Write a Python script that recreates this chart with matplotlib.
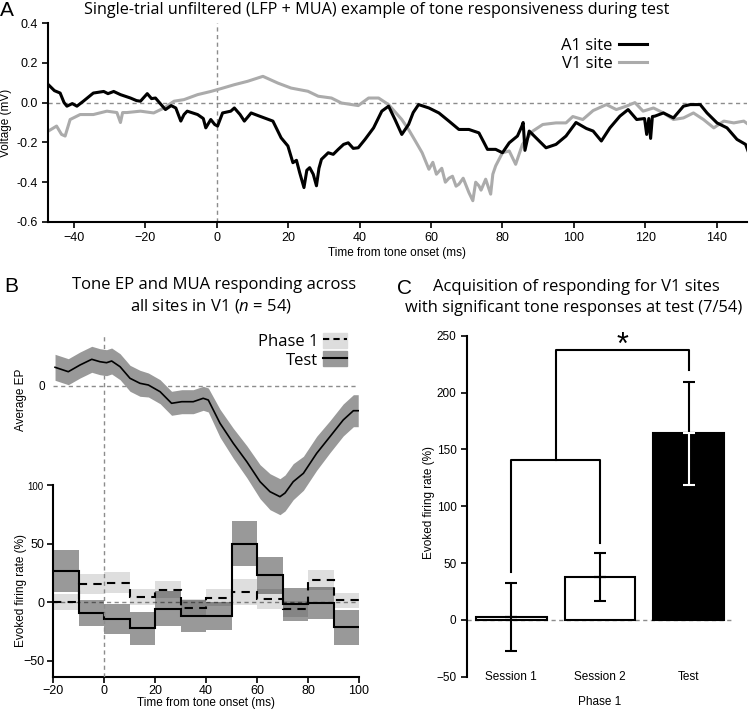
import matplotlib
matplotlib.use("Agg")
import numpy as np
import matplotlib.pyplot as plt
from matplotlib.lines import Line2D
from matplotlib.patches import Patch
from matplotlib.ticker import FormatStrFormatter

plt.rcParams["font.family"] = ["Liberation Sans", "DejaVu Sans"]
plt.rcParams["font.size"] = 8.5
plt.rcParams["mathtext.fontset"] = "custom"
plt.rcParams["mathtext.it"] = "Open Sans:italic"
plt.rcParams["mathtext.rm"] = "Open Sans"

TITLE_FONT = ["Open Sans", "DejaVu Sans"]

# ---- panel A: single-trial traces (time ms, voltage mV) ----
a1_t = [-47.2, -45.5, -43.9, -42.8, -42.0, -40.5, -39.2, -37.4, -34.6, -31.7, -30.5,
        -28.9, -27.0, -24.2, -22.5, -21.4, -19.5, -18.3, -17.2, -14.4, -12.8, -11.5,
        -10.1, -9.2, -8.3, -5.4, -3.8, -3.1, -1.7, -0.6, 0.2, 1.6, 3.9, 4.9, 6.5,
        7.7, 9.6, 11.5, 13.3, 15.7, 18.0, 19.9, 21.3, 22.3, 23.2, 24.4, 25.2, 26.0,
        27.0, 27.9, 28.6, 29.3, 31.2, 32.6, 34.0, 35.5, 36.8, 38.2, 39.6, 41.5,
        43.9, 46.2, 48.1, 49.9, 51.8, 53.7, 55.0, 56.5, 59.4, 62.2, 65.0, 67.8,
        70.6, 73.4, 74.8, 75.8, 78.1, 80.0, 81.9, 84.2, 85.4, 85.8, 86.3, 87.5,
        89.4, 92.2, 95.0, 97.8, 100.6, 103.5, 105.4, 107.7, 110.1, 112.9, 115.2,
        117.6, 119.8, 120.4, 121.0, 121.5, 122.0, 122.7, 125.1, 127.9, 130.7,
        132.6, 135.4, 137.3, 140.1, 142.9, 145.7, 148.1, 149.3]
a1_v = [0.09, 0.06, 0.048, 0.0, -0.018, -0.005, -0.018, 0.007, 0.048, 0.056, 0.045,
        0.056, 0.04, 0.023, 0.01, 0.007, 0.045, 0.02, 0.023, -0.035, -0.015, -0.027,
        -0.093, -0.06, -0.043, -0.06, -0.08, -0.127, -0.085, -0.11, -0.118, -0.052,
        -0.043, -0.027, -0.06, -0.093, -0.052, -0.065, -0.077, -0.093, -0.177,
        -0.218, -0.302, -0.29, -0.352, -0.427, -0.34, -0.327, -0.36, -0.418,
        -0.33, -0.285, -0.252, -0.26, -0.235, -0.21, -0.202, -0.23, -0.227,
        -0.185, -0.127, -0.043, -0.018, -0.085, -0.16, -0.11, -0.05, -0.01,
        -0.027, -0.052, -0.093, -0.135, -0.135, -0.152, -0.2, -0.235, -0.235,
        -0.252, -0.202, -0.168, -0.12, -0.1, -0.24, -0.143, -0.177, -0.227,
        -0.21, -0.168, -0.1, -0.13, -0.143, -0.193, -0.127, -0.068, -0.035,
        -0.085, -0.08, -0.16, -0.08, -0.18, -0.07, -0.068, -0.052, -0.077,
        -0.018, -0.01, -0.01, -0.052, -0.102, -0.127, -0.185, -0.21, -0.268]

v1_t = [-47.2, -44.9, -43.5, -42.5, -41.1, -38.3, -34.6, -30.8, -28.0, -27.0,
        -26.4, -25.2, -21.4, -17.7, -14.8, -12.0, -9.2, -5.4, -1.7, 1.1, 4.9,
        8.6, 12.9, 17.1, 20.8, 25.5, 28.4, 32.1, 34.9, 39.6, 42.5, 45.3, 48.1,
        51.8, 53.7, 55.6, 57.5, 59.4, 60.5, 61.5, 63.0, 64.0, 65.0, 66.0, 67.0,
        67.8, 69.0, 70.6, 71.7, 72.5, 73.4, 74.0, 75.3, 76.7, 77.3, 78.1, 80.0,
        81.9, 83.7, 85.6, 88.5, 91.3, 95.0, 97.8, 99.7, 102.5, 105.4, 109.1,
        111.9, 114.7, 117.1, 119.4, 122.3, 125.1, 127.9, 130.7, 133.5, 136.3,
        139.2, 142.0, 144.8, 147.6, 149.5]
v1_v = [-0.143, -0.118, -0.16, -0.168, -0.085, -0.06, -0.06, -0.043, -0.05, -0.1,
        -0.05, -0.05, -0.043, -0.052, -0.027, 0.007, 0.015, 0.04, 0.056, 0.07,
        0.09, 0.107, 0.132, 0.098, 0.073, 0.057, 0.032, 0.023, -0.002, -0.015,
        0.023, 0.023, -0.01, -0.085, -0.135, -0.193, -0.252, -0.335, -0.3,
        -0.36, -0.33, -0.4, -0.38, -0.37, -0.42, -0.41, -0.38, -0.452, -0.493,
        -0.4, -0.418, -0.44, -0.385, -0.46, -0.36, -0.318, -0.252, -0.243, -0.31,
        -0.21, -0.143, -0.11, -0.102, -0.102, -0.07, -0.085, -0.04, -0.01,
        -0.035, -0.018, 0.0, -0.043, -0.027, -0.052, -0.085, -0.077, -0.052,
        -0.085, -0.127, -0.093, -0.102, -0.093, -0.118]

# ---- panel B: average EP (a.u.) and evoked MUA (%) ----
ep_t = [-19.2, -14.0, -9.4, -4.8, -1.6, 1.0, 3.0, 6.3, 10.2, 14.1, 17.4, 22.0,
        26.5, 30.5, 35.0, 38.9, 40.9, 45.5, 50.7, 56.0, 61.2, 65.1, 69.0, 71.0,
        74.2, 78.2, 83.4, 88.6, 93.8, 97.8, 99.7]
ep_mean = [18.7, 14.3, 21.0, 26.7, 24.3, 23.3, 25.0, 19.3, 7.7, 2.7, 1.0, -5.7,
           -17.3, -15.7, -15.7, -12.3, -14.0, -37.3, -57.3, -75.7, -95.7, -105.7,
           -110.7, -107.0, -95.7, -87.3, -67.3, -50.7, -34.0, -24.7, -24.7]
ep_sem = [13, 13, 13, 13, 13, 13, 13, 13, 13, 13, 12, 12, 12, 12, 12, 12, 12,
          14, 15, 16, 17, 18, 18, 18, 18, 17, 17, 16, 16, 16, 16]

mua_edges = [-20, -10, 0, 10, 20, 30, 40, 50, 60, 70, 80, 90, 100]
test_mean = [26.6, -9.4, -14.3, -22.3, -5.7, -12.0, -12.0, 50.0, 22.9, -2.0, -0.9, -21.4]
test_sem = [18, 11, 13, 14, 15, 13.5, 12, 19, 16, 14, 13.5, 15]
phase1_mean = [0.0, 15.2, 16.6, 4.3, 10.6, -4.8, 3.8, 8.6, 2.9, -5.7, 19.2, 1.4]
phase1_sem = [7, 8.6, 9, 7, 7.5, 7, 7, 11.5, 8.5, 7, 8.6, 6.7]

# ---- panel C: evoked firing rate per session ----
sessions = ["Session 1", "Session 2", "Test"]
rate_mean = [2.4, 38.0, 164.0]
rate_sem = [30.0, 21.0, 45.5]
bar_colors = ["white", "white", "black"]

W, H = 750, 714
fig = plt.figure(figsize=(W / 100, H / 100), dpi=100)


def px_axes(left, top, right, bottom):
    return fig.add_axes([left / W, 1 - bottom / H, (right - left) / W, (bottom - top) / H])


DASH = dict(color="#8c8c8c", lw=1.0, ls=(0, (3, 2.5)))
LETTER = dict(fontsize=15, va="center", ha="left")

# ================= A =================
axA = px_axes(48, 23, 747, 222)
axA.axhline(0, zorder=1, **DASH)
axA.axvline(0, zorder=1, **DASH)
axA.plot(v1_t, v1_v, color="#ababab", lw=2.2, label="V1 site", zorder=2)
axA.plot(a1_t, a1_v, color="black", lw=2.2, label="A1 site", zorder=3)
axA.set_xlim(-47.3, 148.5)
axA.set_ylim(-0.6, 0.4)
axA.set_xticks(range(-40, 141, 20))
axA.set_yticks(np.arange(-0.6, 0.41, 0.2))
axA.yaxis.set_major_formatter(FormatStrFormatter("%.1f"))
for s in ("top", "right"):
    axA.spines[s].set_visible(False)
for s in ("left", "bottom"):
    axA.spines[s].set_linewidth(1.5)
axA.tick_params(width=1.2, length=4, labelsize=9)
axA.set_ylabel("Voltage (mV)", fontsize=8.5, labelpad=3)
axA.set_xlabel("Time from tone onset (ms)", fontsize=8.5, labelpad=2)
hA, lA = axA.get_legend_handles_labels()
fig.legend(hA[::-1], lA[::-1], loc="upper right", bbox_to_anchor=(654 / W, 1 - 31 / H),
           frameon=False, markerfirst=False, handlelength=1.7, handletextpad=0.4,
           labelspacing=0.15, prop={"family": TITLE_FONT, "size": 12}, borderaxespad=0)

fig.text(0 / W, 1 - 11 / H, "A", **LETTER)
fig.text(377 / W, 1 - 10 / H,
         "Single-trial unfiltered (LFP + MUA) example of tone responsiveness during test",
         ha="center", va="center", fontsize=11.6, family=TITLE_FONT)

# ================= B (MUA) =================
axM = px_axes(53, 485, 359, 677)
axM.axhline(0, zorder=1, **DASH)
tm, ts = np.array(test_mean), np.array(test_sem)
pm, ps = np.array(phase1_mean), np.array(phase1_sem)
axM.stairs(tm + ts, mua_edges, baseline=tm - ts, fill=True, color="black", alpha=0.4,
           lw=0, zorder=2)
axM.stairs(pm + ps, mua_edges, baseline=pm - ps, fill=True, color="black", alpha=0.13,
           lw=0, zorder=3)
axM.stairs(pm, mua_edges, baseline=None, color="black", lw=1.5, ls=(0, (4, 3)), zorder=4)
axM.stairs(tm, mua_edges, baseline=None, color="black", lw=1.5, zorder=5)
axM.set_xlim(-20, 100)
axM.set_ylim(-64, 100)
axM.set_xticks(range(-20, 101, 20))
axM.set_yticks([-50, 0, 50, 100])
axM.set_yticklabels(["\u221250", "0", "50", ""])
for s in ("top", "right"):
    axM.spines[s].set_visible(False)
for s in ("left", "bottom"):
    axM.spines[s].set_linewidth(1.5)
axM.tick_params(width=1.2, length=4, labelsize=9, pad=2)
axM.set_ylabel("Evoked firing rate (%)", fontsize=8.5)
axM.yaxis.set_label_coords(-0.085, 0.45)
axM.set_xlabel("Time from tone onset (ms)", fontsize=8.5, labelpad=0)
axM.patch.set_alpha(0)
fig.text(43 / W, 1 - 487 / H, "100", fontsize=7, ha="right", va="center")

# ================= B (EP) =================
axE = px_axes(53, 335, 359, 677)
axE.set_facecolor("none")
axE.axhline(0, zorder=1, **DASH)
axE.axvline(0, zorder=1, **DASH)
em, es = np.array(ep_mean), np.array(ep_sem)
axE.fill_between(ep_t, em - es, em + es, color="#999999", lw=0, zorder=2)
axE.plot(ep_t, em, color="black", lw=1.2, zorder=3)
axE.set_xlim(-20, 100)
axE.set_ylim(-291, 51)
axE.set_xticks([])
axE.set_yticks([0])
axE.tick_params(length=0, labelsize=8.5, pad=6)
for s in axE.spines.values():
    s.set_visible(False)
axE.set_ylabel("Average EP", fontsize=8.5)
axE.yaxis.set_label_coords(-0.085, 0.81)

legB = [
    (Patch(color="#dddddd"), Line2D([], [], color="black", lw=1.5, ls=(0, (3, 2)))),
    (Patch(color="#999999"), Line2D([], [], color="black", lw=1.5)),
]
fig.legend(legB, ["Phase 1", "Test"], loc="upper right",
           bbox_to_anchor=(354 / W, 1 - 326 / H), frameon=False, markerfirst=False,
           handlelength=1.45, handleheight=1.0, handletextpad=0.3, labelspacing=0.1,
           prop={"family": TITLE_FONT, "size": 12}, borderaxespad=0)

fig.text(4 / W, 1 - 287 / H, "B", **LETTER)
fig.text(214 / W, 1 - 285 / H, "Tone EP and MUA responding across",
         ha="center", va="center", fontsize=12, family=TITLE_FONT)
fig.text(211 / W, 1 - 306 / H, "all sites in V1 ($n$ = 54)",
         ha="center", va="center", fontsize=12, family=TITLE_FONT)

# ================= C =================
axC = px_axes(467, 335.7, 733, 676.7)
x = np.arange(len(sessions))
axC.axhline(0, zorder=0, **DASH)
axC.bar(x, rate_mean, width=0.8, color=bar_colors, edgecolor="black", lw=1.5, zorder=2)
for xi, m, e, c in zip(x, rate_mean, rate_sem, bar_colors):
    lower_col = "white" if c == "black" else "black"
    axC.errorbar(xi, m, yerr=[[0], [e]], color="black", lw=1.5, capsize=4,
                 capthick=1.5, zorder=3)
    axC.errorbar(xi, m, yerr=[[e], [0]], color=lower_col, lw=1.5, capsize=4,
                 capthick=1.5, zorder=3)

# significance brackets
br1_y, br1_left, br1_right = 141, 42, 68
br2_y, br2_right = 237, 220
axC.plot([0, 0, 1, 1], [br1_left, br1_y, br1_y, br1_right], color="black", lw=1.5, zorder=4)
axC.plot([0.5, 0.5, 2, 2], [br1_y, br2_y, br2_y, br2_right], color="black", lw=1.5, zorder=4)
axC.text(1.25, br2_y + 4, "*", ha="center", va="center", fontsize=22)

axC.set_xlim(-0.5, 2.5)
axC.set_ylim(-50, 250)
axC.set_yticks(range(-50, 251, 50))
axC.set_xticks(x)
axC.set_xticklabels(sessions)
axC.tick_params(axis="x", length=0, pad=-4, labelsize=8.5)
axC.tick_params(axis="y", width=1.2, length=4, labelsize=8.5)
for s in ("top", "right", "bottom"):
    axC.spines[s].set_visible(False)
axC.spines["left"].set_linewidth(1.5)
axC.set_ylabel("Evoked firing rate (%)", fontsize=8.5)
axC.yaxis.set_label_coords(-0.12, 0.51)
axC.set_xlabel("Phase 1", fontsize=8.5, labelpad=9)

fig.text(397 / W, 1 - 289 / H, "C", **LETTER)
fig.text(576 / W, 1 - 287 / H, "Acquisition of responding for V1 sites",
         ha="center", va="center", fontsize=12, family=TITLE_FONT)
fig.text(574 / W, 1 - 308 / H, "with significant tone responses at test (7/54)",
         ha="center", va="center", fontsize=11.8, family=TITLE_FONT)

fig.savefig("out.png", dpi=100)
